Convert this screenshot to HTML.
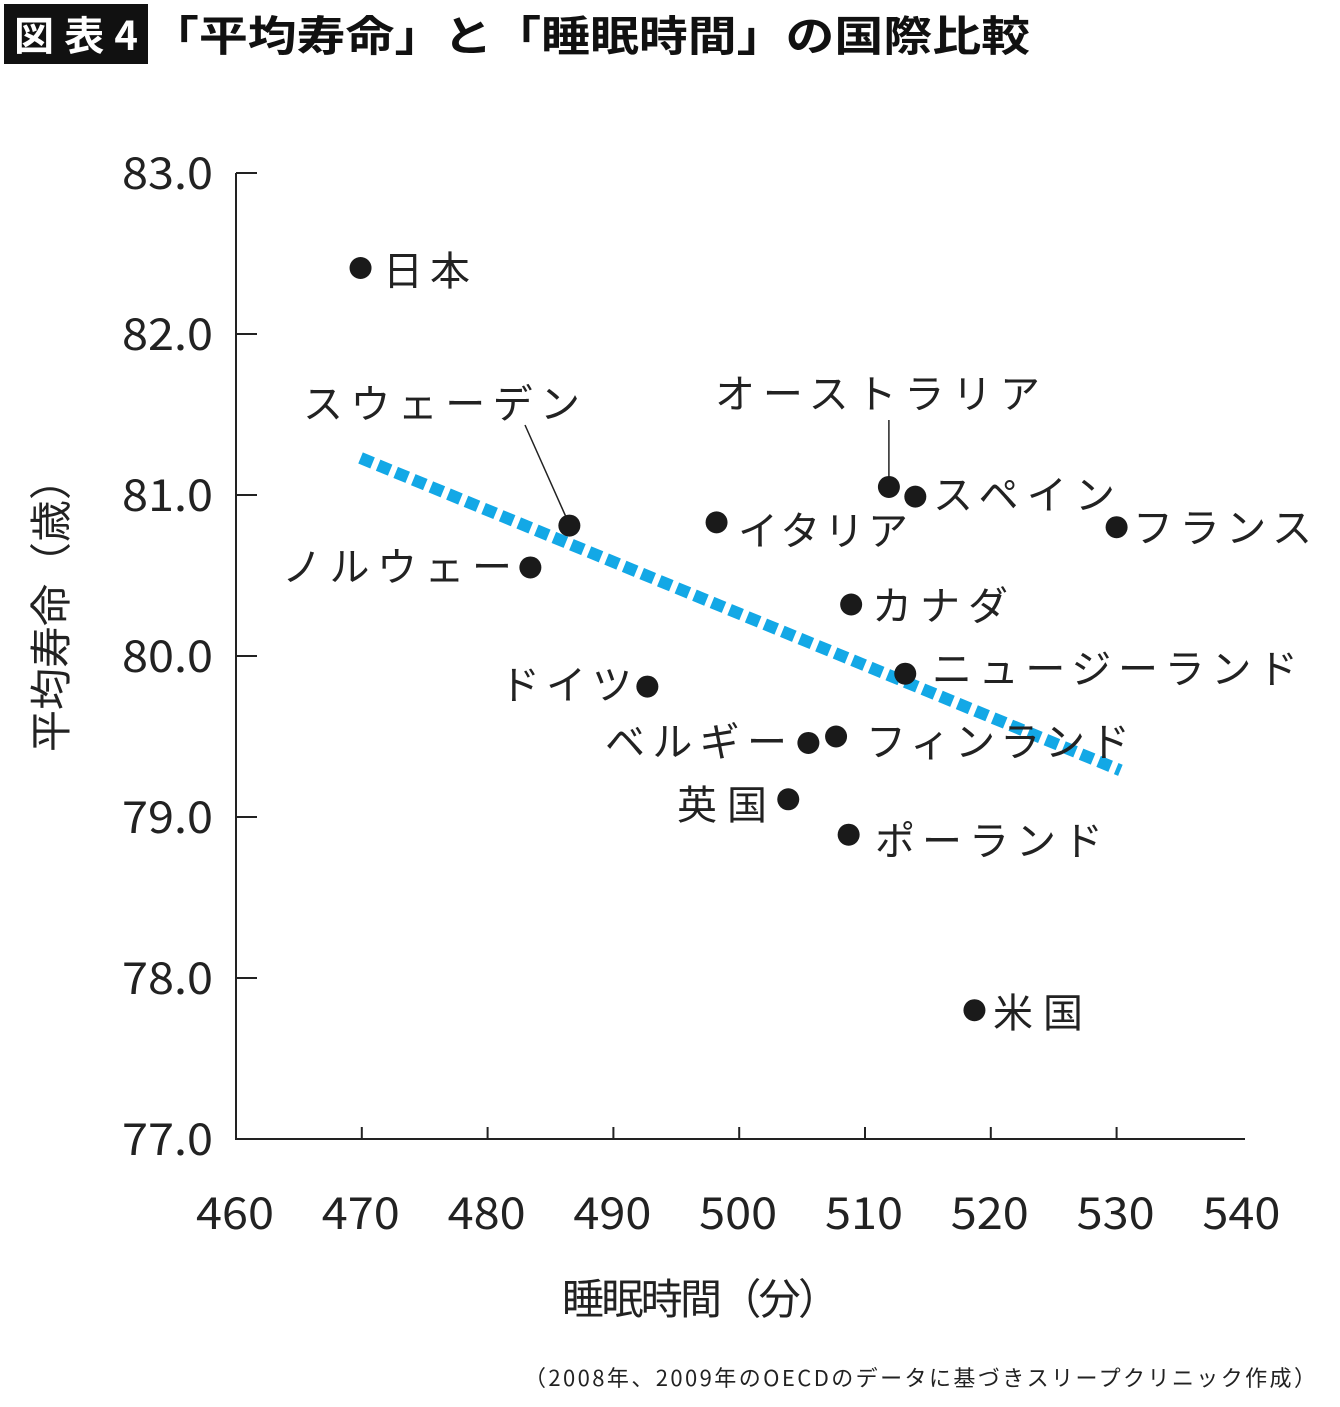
<!DOCTYPE html>
<html><head><meta charset="utf-8"><style>
body{margin:0;background:#fff;width:1340px;height:1402px;overflow:hidden;font-family:"Noto Sans CJK JP","Liberation Sans",sans-serif}
</style></head><body>
<svg id="chart" width="1340" height="1402" xmlns="http://www.w3.org/2000/svg" font-family="'Noto Sans CJK JP','Liberation Sans',sans-serif">
<rect x="4" y="4" width="144" height="60" fill="#111"/>
<text x="14" y="50" font-size="40" font-weight="bold" fill="#fff" textLength="124">図表4</text>
<text x="150" y="51" font-size="42" font-weight="bold" fill="#111" textLength="880" lengthAdjust="spacingAndGlyphs">「平均寿命」と「睡眠時間」の国際比較</text>
<g id="axes"></g><g id="marks"></g>
<text x="562" y="1314" font-size="42" fill="#222" textLength="278">睡眠時間（分）</text>
<text transform="translate(66,605) rotate(-90)" font-size="42" text-anchor="middle" fill="#222">平均寿命（歳）</text>
<text x="524" y="1386" font-size="22" fill="#222" textLength="792">（2008年、2009年のOECDのデータに基づきスリープクリニック作成）</text>
</svg>
<script>
const countries=["日本","スウェーデン","ノルウェー","ドイツ","イタリア","オーストラリア","スペイン","フランス","カナダ","ニュージーランド","ベルギー","フィンランド","英国","ポーランド","米国"];
const sleepMinutes=[469.9,486.5,483.4,492.7,498.2,511.9,514.0,530.0,508.9,513.2,505.5,507.7,503.9,508.7,518.7];
const lifeExpectancy=[82.41,80.81,80.55,79.81,80.83,81.05,80.99,80.80,80.32,79.89,79.46,79.50,79.11,78.89,77.80];
const xTicks=[460,470,480,490,500,510,520,530,540];
const yTicks=[77,78,79,80,81,82,83];
const trendX=[469.9,530.3];
const trendY=[81.23,79.29];
// label layout: [x, centerY, width, leader]
const labelLayout=[[383,270,87],[303,403,277,1],[282,566,230],[500,684,132],[738,530,170],[715,393,325,1],[933,494,182],[1133,527,179],[872,605,136],[932,668,366],[605,741,182],[866,741,264],[677,804,90],[875,840,228],[993,1012,90]];
const X=v=>236+(v-460)*12.58;
const Y=v=>1139-(v-77)*161;
const NS="http://www.w3.org/2000/svg";
function mk(p,tag,attrs){const e=document.createElementNS(NS,tag);for(const k in attrs)e.setAttribute(k,attrs[k]);p.appendChild(e);return e;}
const ax=document.getElementById('axes'),mg=document.getElementById('marks');
let e=mk(ax,'path',{d:`M236 ${Y(83)} V1139 H1245`,stroke:'#222','stroke-width':2,fill:'none'});


yTicks.forEach(t=>{
 let l=mk(ax,'line',{x1:236,x2:257,y1:Y(t),y2:Y(t),stroke:'#222','stroke-width':2});
 
 
 let s=mk(ax,'text',{x:122,y:Y(t)+16,'font-size':44,fill:'#222',textLength:91,lengthAdjust:'spacingAndGlyphs'});s.textContent=t.toFixed(1);
 
 
});
xTicks.forEach(t=>{
 if(t>460&&t<540){let l=mk(ax,'line',{x1:X(t),x2:X(t),y1:1139,y2:1127,stroke:'#222','stroke-width':2});
 
 }
 let s=mk(ax,'text',{x:X(t)-40,y:1229,'font-size':44,fill:'#222',textLength:78,lengthAdjust:'spacingAndGlyphs'});s.textContent=t;
 
 
});
let tr=mk(mg,'line',{x1:X(trendX[0]),y1:Y(trendY[0]),x2:X(trendX[1]),y2:Y(trendY[1]),stroke:'#13a8e6','stroke-width':12,'stroke-dasharray':'13 6'});


countries.forEach((c,i)=>{
 const cx=X(sleepMinutes[i]),cy=Y(lifeExpectancy[i]),L=labelLayout[i];
 if(L[3]){
  const ln = i===1 ? mk(mg,'line',{x1:525,y1:425,x2:cx-4,y2:cy-10,stroke:'#222','stroke-width':1.5}) : mk(mg,'line',{x1:cx,y1:420,x2:cx,y2:cy-10,stroke:'#222','stroke-width':1.5});
  
  
 }
 let d=mk(mg,'circle',{cx:cx,cy:cy,r:11,fill:'#1a1a1a'});
 
 
 let t=mk(mg,'text',{x:L[0],y:L[1]+15,'font-size':40,fill:'#222',textLength:L[2],lengthAdjust:'spacing'});t.textContent=c;
 
 
});
</script>
</body></html>
